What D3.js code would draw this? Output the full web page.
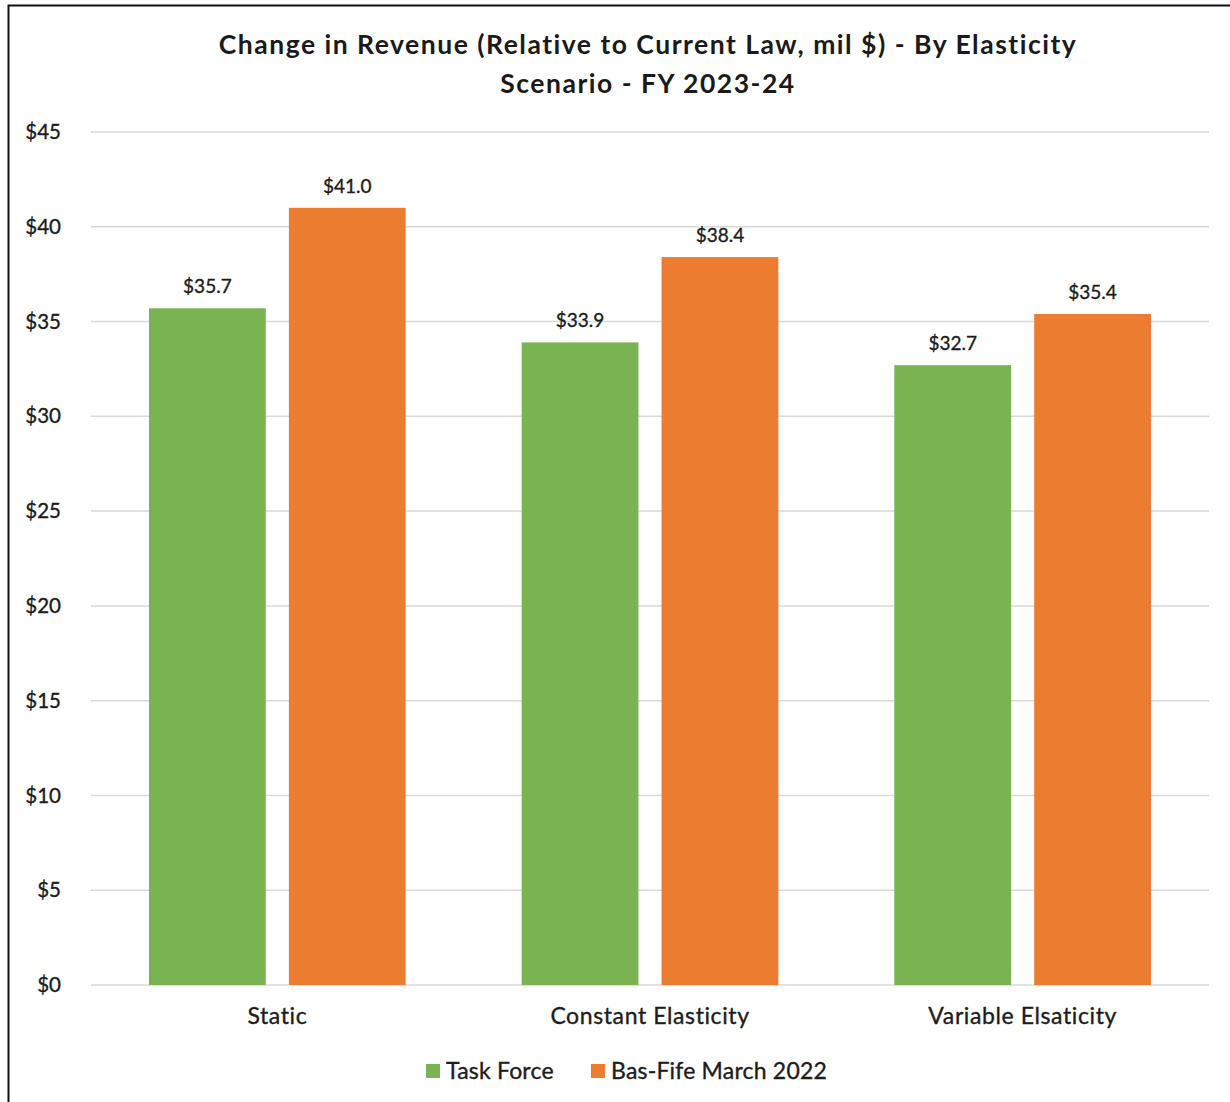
<!DOCTYPE html>
<html>
<head>
<meta charset="utf-8">
<script src="https://cdn.jsdelivr.net/npm/d3@7"></script>
<style>
  html, body { margin: 0; padding: 0; background: #fff; }
  svg { display: block; font-family: Lato, "Open Sans", sans-serif; }
  .lbl { fill: #1c1c1c; stroke: #1c1c1c; stroke-width: 0.35px; }
</style>
</head>
<body>
<svg id="chart" width="1230" height="1102"></svg>
<script>
// Revenue change by elasticity scenario, FY 2023-24 (mil $)
const categories = ["Static", "Constant Elasticity", "Variable Elsaticity"];
const seriesNames = ["Task Force", "Bas-Fife March 2022"];
const taskForce = [35.7, 33.9, 32.7];
const basFife = [41.0, 38.4, 35.4];
const yTicks = [0, 5, 10, 15, 20, 25, 30, 35, 40, 45];
const titleLines = ["Change in Revenue (Relative to Current Law, mil $) - By Elasticity", "Scenario - FY 2023-24"];
const colors = ["#7ab452", "#ec7c30"];

const svg = d3.select("#chart");
const W = 1230, H = 1102;
const plot = { left: 91, right: 1209, top: 132, bottom: 985 };

// outer frame
svg.append("rect")
  .attr("x", 8.5).attr("y", 5.5)
  .attr("width", W + 10).attr("height", H + 10)
  .attr("fill", "#fff").attr("stroke", "#111").attr("stroke-width", 2);

// title
svg.append("text")
  .attr("text-anchor", "middle")
  .attr("font-weight", 700).attr("font-size", 26.5).attr("letter-spacing", 1.5)
  .attr("fill", "#1a1a1a")
  .selectAll("tspan").data(titleLines).join("tspan")
  .attr("x", 648).attr("y", (d, i) => 54 + i * 39)
  .text(d => d);

const y = d3.scaleLinear().domain([0, 45]).range([plot.bottom, plot.top]);
const x0 = d3.scaleBand().domain(categories).range([plot.left, plot.right]).paddingInner(0).paddingOuter(0);
const x1 = d3.scaleBand().domain(seriesNames).range([58, x0.bandwidth() - 58]).paddingInner(0.165);

// gridlines
svg.append("g").selectAll("line").data(yTicks).join("line")
  .attr("x1", plot.left).attr("x2", plot.right)
  .attr("y1", d => y(d)).attr("y2", d => y(d))
  .attr("stroke", "#d9d9d9").attr("stroke-width", 1.5);

// y axis labels
const yAxis = d3.axisLeft(y).tickValues(yTicks).tickSize(0).tickPadding(0)
  .tickFormat(d => "$" + d);
const yg = svg.append("g").attr("transform", `translate(61,0)`).call(yAxis);
yg.select(".domain").remove();
yg.selectAll("text").attr("class", "lbl").attr("font-size", 20.5).attr("font-family", "Lato, sans-serif");

// x axis labels
const xAxis = d3.axisBottom(x0).tickSize(0).tickPadding(0);
const xg = svg.append("g").attr("transform", `translate(0,${plot.bottom + 23})`).call(xAxis);
xg.select(".domain").remove();
xg.selectAll("text").attr("class", "lbl").attr("font-size", 23).attr("letter-spacing", 0.6)
  .attr("font-family", "Lato, sans-serif");

// bars
const rows = categories.map((c, i) => ({ cat: c, vals: [taskForce[i], basFife[i]] }));
const groups = svg.append("g").selectAll("g").data(rows).join("g")
  .attr("transform", d => `translate(${x0(d.cat)},0)`);

groups.selectAll("rect").data(d => d.vals.map((v, j) => ({ name: seriesNames[j], v, j }))).join("rect")
  .attr("x", d => x1(d.name))
  .attr("width", x1.bandwidth())
  .attr("y", d => y(d.v))
  .attr("height", d => y(0) - y(d.v))
  .attr("fill", d => colors[d.j]);

// value labels above bars
groups.selectAll("text.val").data(d => d.vals.map((v, j) => ({ name: seriesNames[j], v, j }))).join("text")
  .attr("class", "val lbl")
  .attr("x", d => x1(d.name) + x1.bandwidth() / 2)
  .attr("y", d => y(d.v) - 15)
  .attr("text-anchor", "middle")
  .attr("font-size", 19)
  .text(d => "$" + d.v.toFixed(1));

// legend
const legend = svg.append("g").attr("transform", "translate(0,1071)");
const legendX = [426, 591];
seriesNames.forEach((n, i) => {
  legend.append("rect").attr("x", legendX[i]).attr("y", -7).attr("width", 14).attr("height", 14).attr("fill", colors[i]);
  legend.append("text").attr("class", "lbl").attr("x", legendX[i] + 20).attr("y", 8)
    .attr("font-size", 23).attr("letter-spacing", 0.2).text(n);
});
</script>
</body>
</html>
